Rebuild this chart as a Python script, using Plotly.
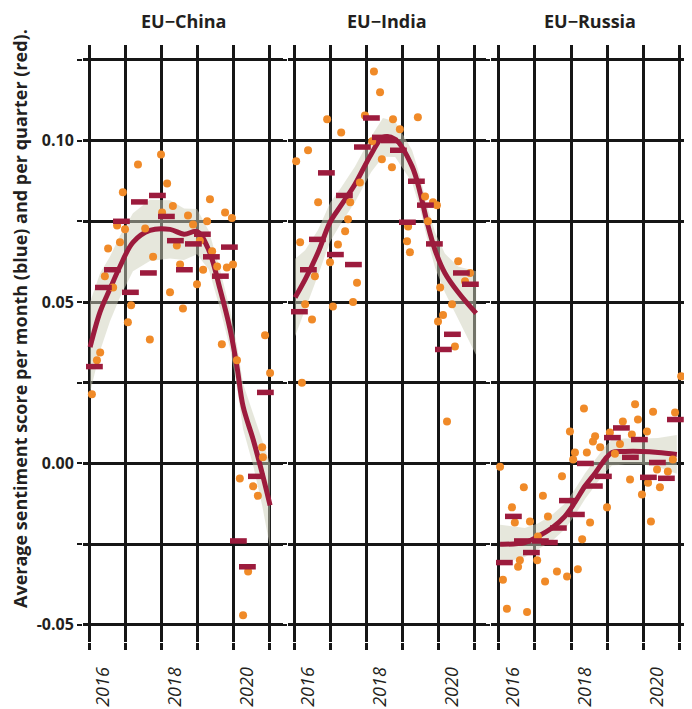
import plotly.graph_objects as go

# ---------------- data (decimal years) ----------------
panels = ["EU\u2212China", "EU\u2212India", "EU\u2212Russia"]

quarter_x = [2016.15, 2016.40, 2016.65, 2016.90, 2017.15, 2017.40, 2017.65, 2017.90,
             2018.15, 2018.40, 2018.65, 2018.90, 2019.15, 2019.40, 2019.65, 2019.90,
             2020.15, 2020.40, 2020.65, 2020.90]

# EU-China
china_month_x = [2016.08, 2016.22, 2016.31, 2016.44, 2016.53, 2016.67, 2016.78, 2016.86, 2016.94, 2017.00,
                 2017.08, 2017.17, 2017.36, 2017.56, 2017.69, 2017.78, 2018.00, 2018.03, 2018.17, 2018.25,
                 2018.33, 2018.44, 2018.53, 2018.61, 2018.75, 2018.89, 2019.00, 2019.08, 2019.17, 2019.28,
                 2019.36, 2019.42, 2019.56, 2019.69, 2019.78, 2019.83, 2019.97, 2020.00, 2020.11, 2020.19,
                 2020.28, 2020.42, 2020.56, 2020.69, 2020.81, 2020.83, 2020.89, 2021.03]
china_month_y = [0.0214, 0.032, 0.0344, 0.058, 0.0666, 0.0545, 0.0737, 0.0685, 0.084, 0.0725,
                 0.0437, 0.049, 0.0926, 0.0728, 0.0384, 0.064, 0.0957, 0.0777, 0.0867, 0.053,
                 0.0797, 0.0675, 0.0616, 0.048, 0.0768, 0.074, 0.0555, 0.069, 0.060, 0.075,
                 0.0818, 0.0657, 0.061, 0.0369, 0.0777, 0.0607, 0.076, 0.0616, 0.032, -0.0047,
                 -0.047, -0.0335, -0.0071, -0.010, 0.005, 0.0019, 0.0397, 0.028]
china_quarter_y = [0.030, 0.0545, 0.060, 0.075, 0.053, 0.081, 0.059, 0.083, 0.0765, 0.069,
                   0.060, 0.068, 0.071, 0.064, 0.058, 0.067, -0.024, -0.032, -0.004, 0.022]
china_smooth_x = [2016.03, 2016.31, 2016.58, 2016.86, 2017.22, 2017.69, 2018.25, 2018.64, 2019.00,
                  2019.33, 2019.64, 2019.92, 2020.11, 2020.28, 2020.56, 2020.81, 2021.03]
china_smooth_y = [0.036, 0.047, 0.054, 0.061, 0.0685, 0.0722, 0.0725, 0.071, 0.0718,
                  0.066, 0.054, 0.0415, 0.030, 0.0177, 0.0074, -0.003, -0.013]
china_band = [0.014, 0.012, 0.010, 0.0095, 0.009, 0.0095, 0.009, 0.008, 0.007,
              0.006, 0.006, 0.006, 0.0065, 0.007, 0.008, 0.010, 0.013]

# EU-India
india_month_x = [2016.06, 2016.17, 2016.22, 2016.31, 2016.39, 2016.50, 2016.58, 2016.67, 2016.92, 2017.00,
                 2017.08, 2017.22, 2017.31, 2017.42, 2017.50, 2017.56, 2017.64, 2017.75, 2017.83, 2017.97,
                 2018.17, 2018.22, 2018.39, 2018.44, 2018.72, 2018.75, 2018.94, 2019.14, 2019.17, 2019.22,
                 2019.44, 2019.64, 2019.72, 2019.86, 2019.97, 2020.00, 2020.06, 2020.14, 2020.25, 2020.39,
                 2020.47, 2020.56, 2020.75, 2020.89]
india_month_y = [0.0936, 0.0685, 0.025, 0.0493, 0.097, 0.0446, 0.058, 0.0809, 0.1066, 0.0623,
                 0.0486, 0.0678, 0.1025, 0.0719, 0.0756, 0.0809, 0.050, 0.056, 0.087, 0.1078,
                 0.0998, 0.1214, 0.115, 0.0942, 0.0917, 0.1066, 0.1035, 0.0688, 0.0734, 0.0654,
                 0.1072, 0.0827, 0.075, 0.0809, 0.080, 0.044, 0.0545, 0.046, 0.013, 0.0493,
                 0.0362, 0.0626, 0.0564, 0.059]
india_quarter_y = [0.047, 0.060, 0.0694, 0.090, 0.0647, 0.083, 0.0616, 0.098, 0.107, 0.101,
                   0.100, 0.097, 0.0747, 0.0874, 0.080, 0.068, 0.0353, 0.040, 0.059, 0.0555]
india_smooth_x = [2016.03, 2016.31, 2016.67, 2017.00, 2017.31, 2017.69, 2018.14, 2018.47, 2018.81,
                  2019.28, 2019.50, 2019.69, 2019.92, 2020.19, 2020.56, 2021.06]
india_smooth_y = [0.0514, 0.057, 0.0654, 0.0747, 0.080, 0.0864, 0.0957, 0.101, 0.1004,
                  0.092, 0.084, 0.075, 0.066, 0.059, 0.053, 0.0465]
india_band = [0.012, 0.009, 0.007, 0.006, 0.0055, 0.0055, 0.0055, 0.006, 0.0055,
              0.005, 0.005, 0.005, 0.0055, 0.006, 0.008, 0.013]

# EU-Russia
russia_month_x = [2016.03, 2016.11, 2016.22, 2016.36, 2016.44, 2016.53, 2016.58, 2016.69, 2016.78, 2016.86,
                  2017.06, 2017.08, 2017.22, 2017.28, 2017.36, 2017.61, 2017.75, 2017.89, 2017.97, 2018.06,
                  2018.11, 2018.19, 2018.31, 2018.36, 2018.44, 2018.53, 2018.61, 2018.67, 2018.81, 2019.00,
                  2019.08, 2019.22, 2019.36, 2019.44, 2019.64, 2019.69, 2019.78, 2019.86, 2019.97, 2020.11,
                  2020.14, 2020.22, 2020.28, 2020.39, 2020.47, 2020.69, 2020.83, 2020.89, 2021.06]
russia_month_y = [-0.001, -0.036, -0.045, -0.0136, -0.0183, -0.032, -0.030, -0.0074, -0.046, -0.018,
                  -0.030, -0.0226, -0.010, -0.0366, -0.0164, -0.0335, -0.004, -0.035, 0.0099, 0.0012,
                  0.0034, -0.0328, -0.0235, 0.017, 0.0034, -0.0183, 0.0068, 0.0084, 0.005, -0.0136,
                  0.0096, 0.003, 0.006, 0.013, -0.005, 0.009, 0.0183, 0.0136, -0.0096, 0.0099,
                  -0.006, -0.018, 0.016, -0.0019, -0.0074, -0.0025, 0.0012, 0.0158, 0.027]
russia_quarter_y = [-0.0307, -0.0164, -0.024, -0.0276, -0.024, -0.0245, -0.020, -0.0115, -0.0158, 0.000,
                    -0.007, -0.004, 0.008, 0.011, 0.0019, 0.0074, -0.0043, 0.0003, -0.0046, 0.0136]
russia_smooth_x = [2016.03, 2016.72, 2017.08, 2017.47, 2017.83, 2018.11, 2018.39, 2018.67, 2018.94,
                   2019.14, 2019.50, 2019.97, 2020.42, 2020.94]
russia_smooth_y = [-0.025, -0.0245, -0.0226, -0.020, -0.0164, -0.012, -0.007, -0.003, 0.0012,
                   0.0034, 0.0037, 0.0037, 0.0034, 0.0028]
russia_band = [0.006, 0.0045, 0.004, 0.004, 0.004, 0.004, 0.004, 0.004, 0.004,
               0.004, 0.004, 0.004, 0.0045, 0.006]

year_ticks = [2016, 2017, 2018, 2019, 2020, 2021]
year_labels = ["2016", "", "2018", "", "2020", ""]
y_ticks = [-0.05, -0.025, 0.0, 0.025, 0.05, 0.075, 0.10, 0.125]
y_labels = ["-0.05", "", "0.00", "", "0.05", "", "0.10", ""]

# ---------------- style ----------------
MONTH_COLOR = "#F08A28"
QUARTER_COLOR = "#9C1B3D"
BAND_COLOR = "rgba(205,208,185,0.5)"
GRID = "#161616"
TEXT = "#231F20"

data = [
    (china_month_x, china_month_y, china_quarter_y, china_smooth_x, china_smooth_y, china_band),
    (india_month_x, india_month_y, india_quarter_y, india_smooth_x, india_smooth_y, india_band),
    (russia_month_x, russia_month_y, russia_quarter_y, russia_smooth_x, russia_smooth_y, russia_band),
]

# the page body adds an 8px offset, so the figure's layout is shifted by -8px
W, H = 692, 709
ml, mr, mt, mb = 75, 12, 37, 75
pw = W - ml - mr
ph = H - mt - mb
x_px = [(0, 200), (205, 403), (408, 605)]
x_ranges = [[2015.833, 2021.389], [2015.833, 2021.333], [2015.778, 2021.25]]
y_range = [-0.0553, 0.1296]

fig = go.Figure()
for i, (mx, my, qy, sx, sy, bw) in enumerate(data):
    xa = "x" if i == 0 else f"x{i+1}"
    ya = "y" if i == 0 else f"y{i+1}"
    upper = [s + b for s, b in zip(sy, bw)]
    lower = [s - b for s, b in zip(sy, bw)]
    fig.add_trace(go.Scatter(x=sx + sx[::-1], y=upper + lower[::-1], fill="toself",
                             fillcolor=BAND_COLOR, line=dict(width=0), mode="lines",
                             hoverinfo="skip", showlegend=False, xaxis=xa, yaxis=ya))
    fig.add_trace(go.Scatter(x=sx, y=sy, mode="lines", line=dict(color=QUARTER_COLOR, width=5, shape="spline"),
                             showlegend=False, xaxis=xa, yaxis=ya))
    fig.add_trace(go.Scatter(x=mx, y=my, mode="markers",
                             marker=dict(color=MONTH_COLOR, size=8, symbol="circle", line=dict(width=0)),
                             showlegend=False, xaxis=xa, yaxis=ya))
    fig.add_trace(go.Scatter(x=quarter_x, y=qy, mode="markers",
                             marker=dict(symbol="line-ew", size=12, line=dict(color=QUARTER_COLOR, width=5.5)),
                             showlegend=False, xaxis=xa, yaxis=ya))

layout = dict(
    template="none",
    width=W, height=H, margin=dict(l=ml, r=mr, t=mt, b=mb, autoexpand=False),
    paper_bgcolor="white", plot_bgcolor="white",
    font=dict(family="Open Sans, Noto Sans, sans-serif", color=TEXT),
)
for i in range(3):
    sfx = "" if i == 0 else str(i + 1)
    d0, d1 = x_px[i]
    layout["xaxis" + sfx] = dict(
        domain=[d0 / pw, d1 / pw], range=x_ranges[i], anchor="y" + sfx, automargin=False,
        tickvals=year_ticks, ticktext=year_labels, tickangle=-90,
        ticks="outside", ticklen=7, tickwidth=2.5, tickcolor=GRID,
        showgrid=True, gridcolor=GRID, gridwidth=2.5, zeroline=False, showline=False,
        tickfont=dict(size=18, style="italic", color=TEXT),
        ticklabelshift=14, ticklabelstandoff=10,
    )
    layout["yaxis" + sfx] = dict(
        domain=[0, 1], range=y_range, anchor="x" + sfx, automargin=False,
        tickvals=y_ticks, ticktext=y_labels,
        ticks="outside", ticklen=5 if i == 0 else 4, tickwidth=2, tickcolor=GRID,
        showgrid=True, gridcolor=GRID, gridwidth=2.5, zeroline=False, showline=False,
        showticklabels=(i == 0),
        tickfont=dict(size=16, weight="bold", color=TEXT),
    )

annotations = []
for i, name in enumerate(panels):
    d0, d1 = x_px[i]
    annotations.append(dict(text=f"<b>{name}</b>", x=(d0 + d1) / 2 / pw, y=1 + (mt - 13) / ph,
                            xref="paper", yref="paper", showarrow=False, xanchor="center", yanchor="middle",
                            font=dict(size=18, color=TEXT)))
annotations.append(dict(text="<b>Average sentiment score per month (blue) and per quarter (red).</b>",
                        x=(12 - ml) / pw, y=(H - mb - 311) / ph, xref="paper", yref="paper",
                        showarrow=False, textangle=-90, xanchor="center", yanchor="middle",
                        font=dict(size=18, color=TEXT)))
layout["annotations"] = annotations
fig.update_layout(**layout)

fig.write_html("out.html")
